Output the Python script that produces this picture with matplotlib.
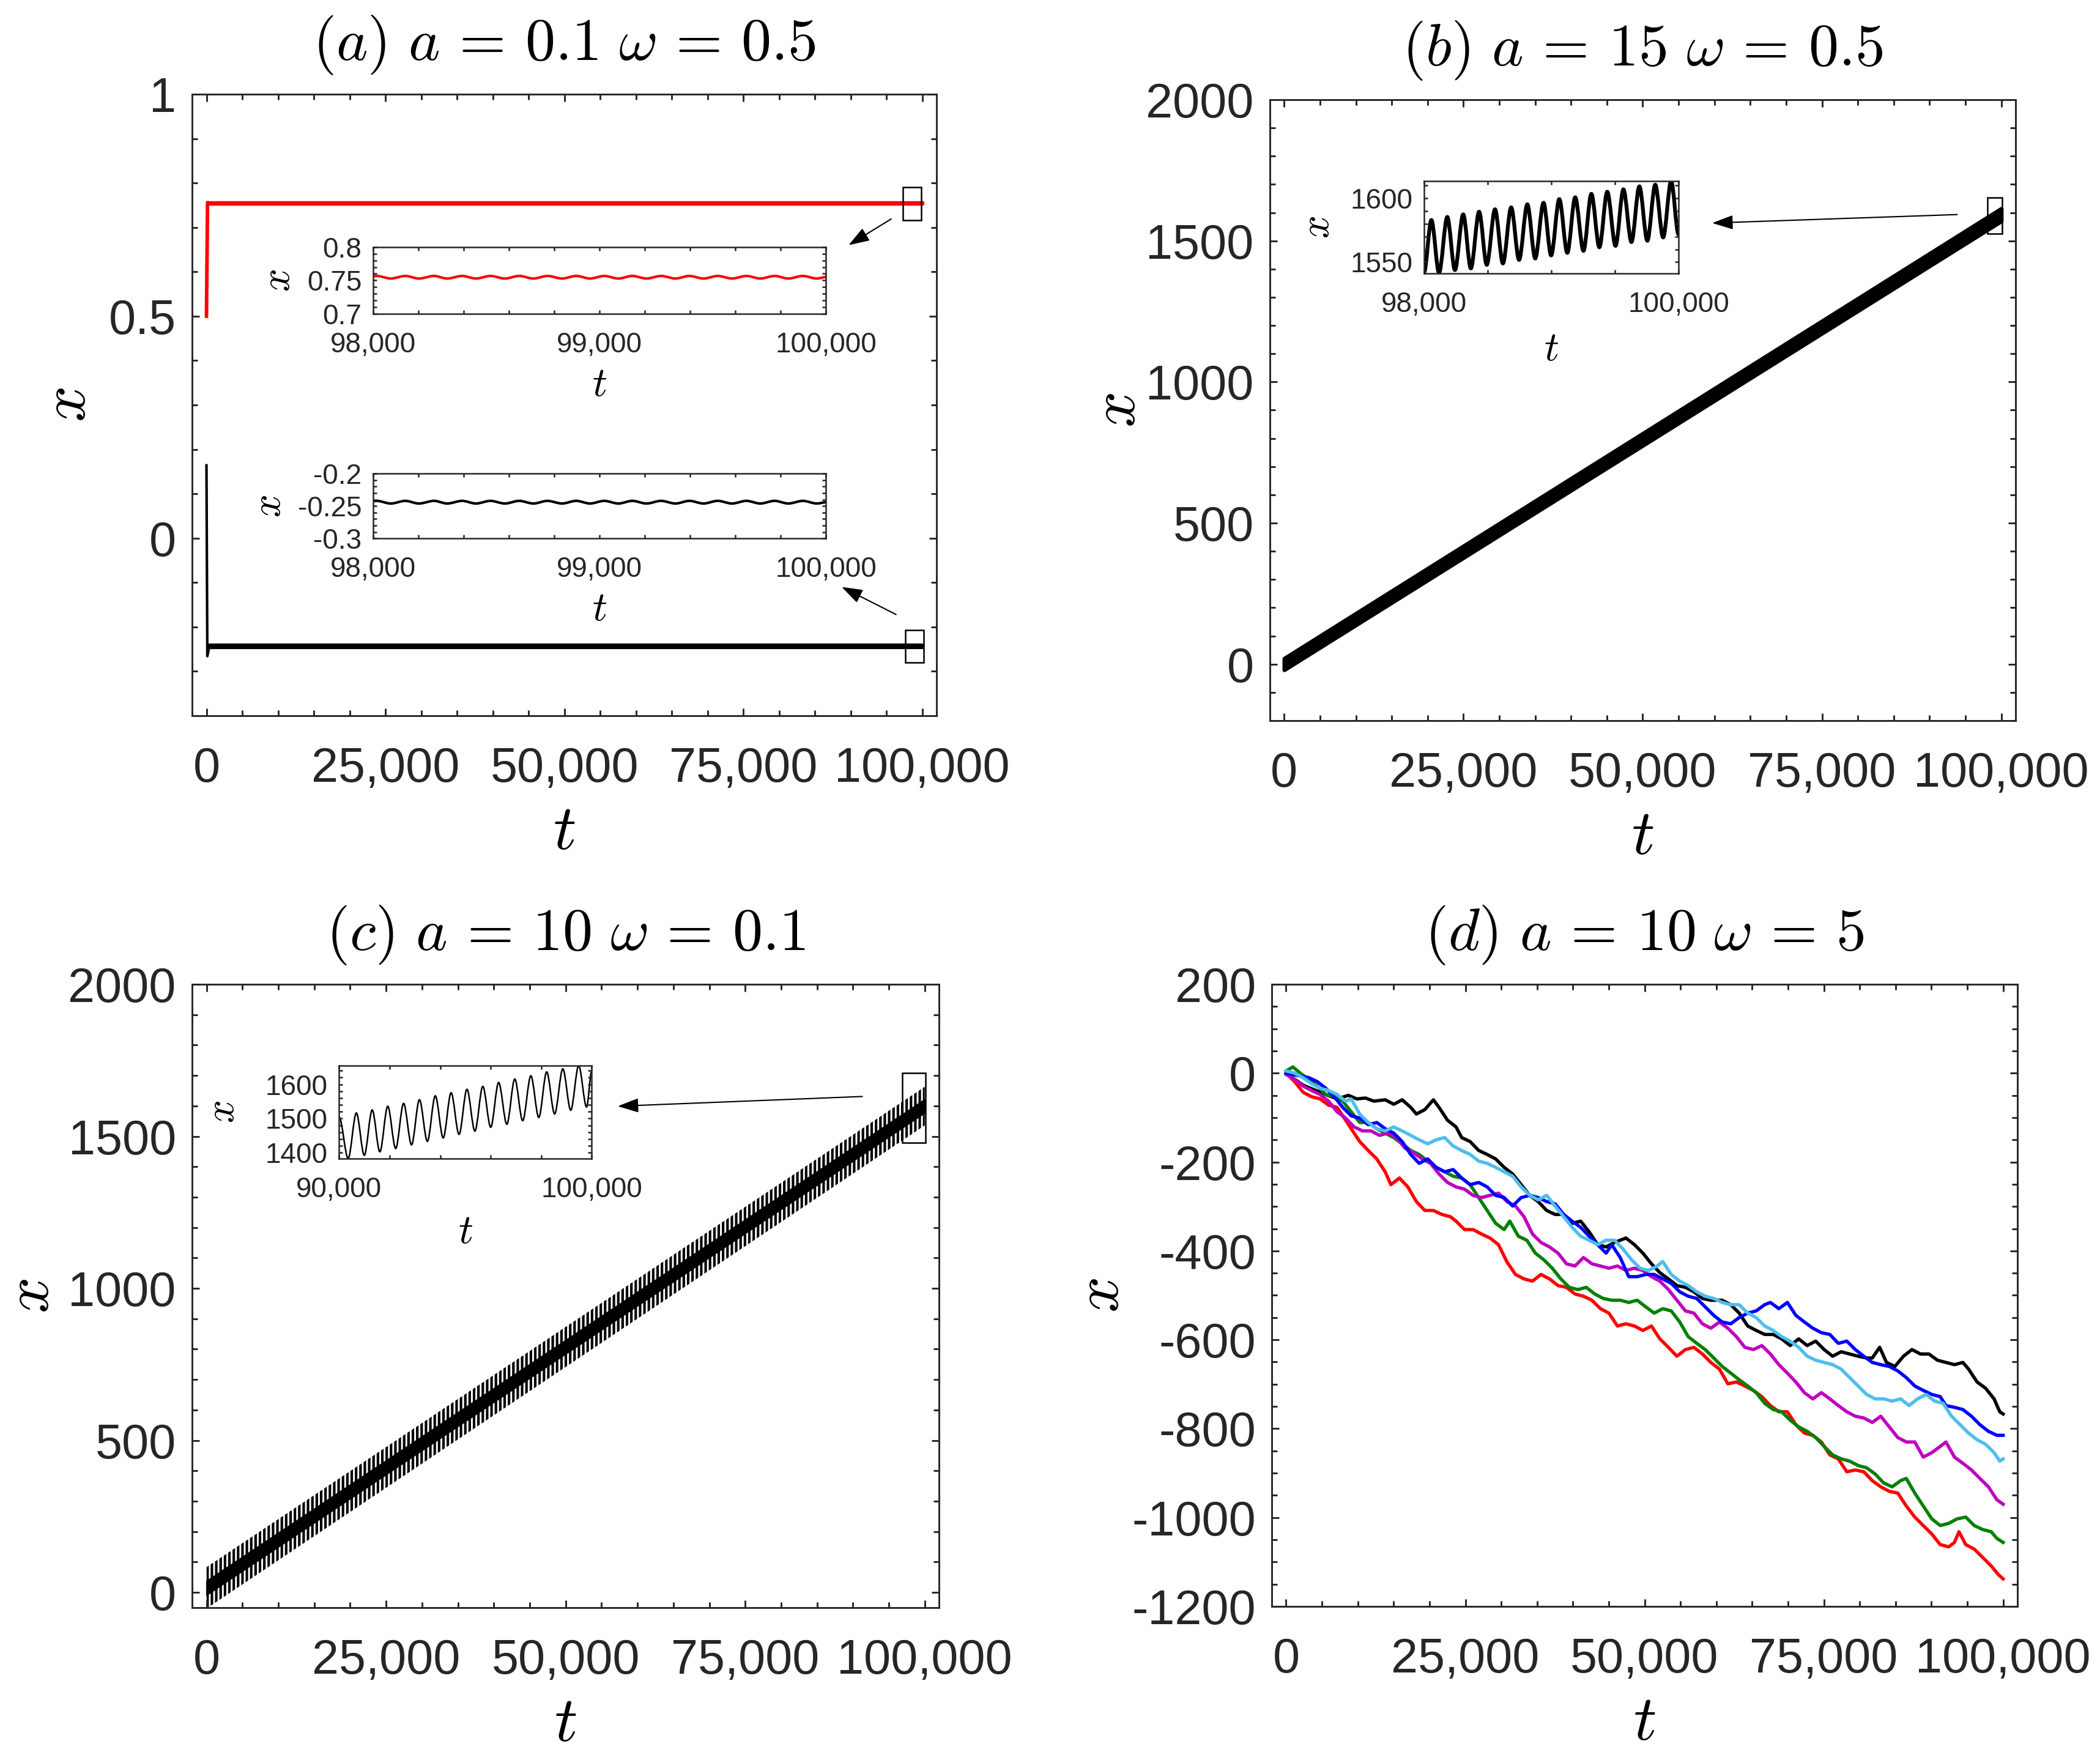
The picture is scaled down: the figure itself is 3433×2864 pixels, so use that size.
import numpy as np
import matplotlib
matplotlib.use('Agg')
import matplotlib.pyplot as plt
from matplotlib.ticker import MultipleLocator, FixedLocator, FuncFormatter
from matplotlib.patches import Rectangle, PathPatch
from matplotlib.path import Path

plt.rcParams['font.family'] = ['Liberation Sans', 'DejaVu Sans']
plt.rcParams['mathtext.fontset'] = 'cm'
plt.rcParams['axes.unicode_minus'] = False
plt.rcParams['hatch.linewidth'] = 1.0

AXC = '#262626'

# ---------------- data ----------------
main_xticks = [0, 25000, 50000, 75000, 100000]

# (a) main traces: initial transient and oscillation envelope afterwards
a_red_t = [0, 150, 400]
a_red_x = [0.5, 0.756, 0.755]
a_red_env_t = [400, 100000]
a_red_env_lo = [0.7528, 0.7528]
a_red_env_hi = [0.7567, 0.7567]
a_blk_t = [0, 120, 400]
a_blk_x = [0.164, -0.266, -0.244]
a_blk_env_t = [400, 100000]
a_blk_env_lo = [-0.2462, -0.2462]
a_blk_env_hi = [-0.2421, -0.2421]

# (a) inset extrema (shared times)
a_ins_t = [98000, 98016, 98078, 98142, 98202, 98269, 98327, 98393, 98454, 98518,
           98582, 98645, 98708, 98770, 98834, 98897, 98958, 99021, 99083, 99145,
           99207, 99272, 99335, 99397, 99459, 99522, 99585, 99649, 99710, 99773,
           99834, 99898, 99960, 100000]
a_red_ins_x = [0.7563, 0.7567, 0.7528, 0.7567, 0.7528, 0.7567, 0.7528, 0.7567, 0.7528, 0.7567,
               0.7528, 0.7567, 0.7528, 0.7567, 0.7528, 0.7567, 0.7528, 0.7567, 0.7528, 0.7567,
               0.7528, 0.7567, 0.7528, 0.7567, 0.7528, 0.7567, 0.7528, 0.7567, 0.7528, 0.7567,
               0.7528, 0.7567, 0.7528, 0.7550]
a_blk_ins_x = [-0.2423, -0.2421, -0.2462, -0.2421, -0.2462, -0.2421, -0.2462, -0.2421, -0.2462, -0.2421,
               -0.2462, -0.2421, -0.2462, -0.2421, -0.2462, -0.2421, -0.2462, -0.2421, -0.2462, -0.2421,
               -0.2462, -0.2421, -0.2462, -0.2421, -0.2462, -0.2421, -0.2462, -0.2421, -0.2462, -0.2421,
               -0.2462, -0.2421, -0.2462, -0.2443]

# (b) main band envelope
b_env_t = [0, 100000]
b_env_lo = [-20, 1570]
b_env_hi = [20, 1614]
# (b) inset extrema
b_ins_t = [98000, 98058, 98118, 98183, 98243, 98308, 98368, 98433, 98493, 98558,
           98620, 98685, 98747, 98812, 98874, 98939, 98999, 99063, 99126, 99188,
           99253, 99315, 99378, 99440, 99505, 99567, 99630, 99692, 99755, 99817,
           99879, 99942, 100000]
b_ins_x = [1541.8, 1583.0, 1541.5, 1585.4, 1543.7, 1587.4, 1545.0, 1589.5, 1547.8, 1591.4,
           1548.9, 1592.9, 1551.7, 1595.3, 1552.8, 1596.5, 1555.2, 1599.4, 1557.2, 1600.8,
           1558.8, 1603.5, 1561.6, 1605.2, 1562.7, 1607.1, 1565.7, 1609.4, 1566.7, 1610.7,
           1569.3, 1613.5, 1571.7]

# (c) main band envelope (outer oscillation band, solid core)
c_env_t = [0, 100000]
c_env_lo = [-53, 1536]
c_env_hi = [83, 1663]
c_core_lo = [-8, 1578]
c_core_hi = [38, 1622]
# (c) inset extrema
c_ins_t = [90000, 90357, 90681, 90995, 91308, 91611, 91924, 92238, 92551, 92865,
           93178, 93492, 93805, 94119, 94432, 94746, 95059, 95373, 95686, 96000,
           96313, 96638, 96951, 97265, 97589, 97902, 98216, 98529, 98854, 99167,
           99481, 99794, 100000]
c_ins_x = [1504, 1383.2, 1516.2, 1392.2, 1525.2, 1402.4, 1535.9, 1412.0, 1544.3, 1422.8,
           1555.1, 1432.9, 1566.5, 1443.1, 1575.4, 1453.3, 1585.6, 1462.9, 1594.0, 1474.3,
           1605.4, 1483.2, 1615.6, 1493.4, 1625.1, 1503.0, 1636.5, 1513.2, 1645.5, 1524.0,
           1655.1, 1533.5, 1640]

# (d) trajectories
d_black_t = [0, 2370, 4740, 7110, 8690, 9870, 11060, 12240, 13820, 15010, 16190, 17380, 18170, 19350,
             20540, 21330, 22510, 23700, 24490, 25670, 26860, 28040, 29230, 30410, 31600, 32780, 33970,
             35150, 36340, 37520, 38710, 39890, 41080, 42260, 43440, 44630, 45810, 47390, 48580, 49760,
             50950, 52130, 53320, 54500, 55690, 56870, 58060, 59240, 60820, 62010, 63190, 64380, 65560,
             66750, 67930, 69120, 70300, 71490, 72670, 73860, 75040, 76220, 77410, 78590, 79780, 80960,
             81750, 82780, 83730, 84910, 86100, 87280, 88470, 89650, 90840, 92020, 93210, 94390, 95180,
             96370, 97550, 98740, 99530, 100000]
d_black_x = [0, -27, -43, -58, -50, -58, -56, -63, -60, -70, -60, -77, -92, -82, -60, -77, -106, -121,
             -145, -154, -174, -183, -193, -212, -227, -251, -275, -289, -309, -318, -318, -338, -333,
             -357, -386, -391, -381, -371, -386, -405, -429, -449, -463, -478, -482, -492, -507, -511,
             -511, -521, -540, -569, -579, -588, -588, -598, -613, -598, -613, -603, -622, -637, -627,
             -632, -637, -641, -641, -617, -651, -660, -637, -622, -632, -632, -646, -651, -656, -651,
             -666, -695, -709, -733, -762, -767]

d_blue_t = [0, 1580, 3160, 4340, 5530, 6710, 7900, 9080, 10270, 11450, 12640, 13820, 15010, 16190,
            17380, 18560, 19750, 20930, 22120, 23300, 24490, 25670, 26860, 28040, 29230, 30410, 31600,
            32780, 33970, 35150, 36340, 37520, 38710, 39890, 41080, 42260, 43440, 44630, 45420, 46600,
            47790, 48970, 50160, 51340, 52530, 53710, 54900, 56080, 57270, 58450, 59640, 60820, 62010,
            63190, 64380, 65560, 66750, 67540, 68720, 69910, 71090, 72280, 73460, 74650, 75830, 77010,
            78200, 79380, 80570, 81750, 82940, 84120, 85310, 86490, 87680, 88860, 90050, 91230, 92020,
            93210, 94390, 95580, 96760, 97950, 99130, 100000]
d_blue_x = [0, -5, -10, -19, -34, -53, -77, -96, -101, -116, -111, -125, -135, -154, -183, -203, -193,
            -212, -222, -217, -236, -251, -246, -256, -275, -280, -299, -280, -275, -280, -289, -294,
            -318, -333, -347, -367, -386, -405, -386, -415, -458, -458, -453, -453, -463, -473, -492,
            -502, -507, -526, -545, -560, -564, -550, -540, -535, -521, -516, -530, -516, -545, -560,
            -574, -584, -588, -608, -603, -622, -637, -651, -656, -660, -670, -685, -704, -714, -723,
            -728, -748, -752, -757, -772, -791, -806, -815, -815]

d_cyan_t = [0, 1190, 2370, 3550, 4740, 5920, 7110, 8290, 9080, 10270, 11450, 12640, 13820, 15010,
            16190, 17380, 18560, 19750, 20930, 22120, 23300, 24490, 25670, 26860, 28040, 29230, 30410,
            31600, 32780, 33970, 35150, 36340, 37520, 38710, 39890, 41080, 42260, 43440, 44630, 45810,
            47000, 48180, 49370, 50550, 51740, 52530, 53710, 54900, 56080, 57270, 58450, 59640, 60820,
            62010, 63190, 64380, 65560, 66750, 67930, 69120, 70300, 71490, 72670, 73860, 75040, 76220,
            77410, 78590, 79780, 80960, 82150, 83330, 84520, 85700, 86890, 88070, 89260, 90440, 91630,
            92810, 94000, 95180, 96370, 97550, 98740, 99530, 100000]
d_cyan_x = [5, 0, -10, -24, -34, -39, -48, -63, -58, -92, -111, -125, -130, -121, -130, -140, -150,
            -159, -150, -145, -164, -174, -183, -198, -203, -212, -222, -232, -256, -275, -285, -275,
            -299, -323, -347, -367, -376, -386, -376, -376, -396, -420, -439, -444, -434, -424, -453,
            -468, -478, -492, -502, -507, -516, -521, -521, -540, -550, -569, -579, -593, -603, -617,
            -637, -646, -651, -656, -666, -685, -704, -723, -733, -733, -738, -733, -748, -733, -723,
            -738, -743, -772, -791, -810, -825, -835, -854, -873, -868]

d_mag_t = [0, 1190, 2370, 3550, 4740, 5920, 7110, 8290, 9480, 10660, 11850, 13030, 14220, 15400,
           16590, 17770, 18960, 20140, 21330, 22510, 23700, 24880, 26070, 27250, 28440, 29620, 30810,
           31990, 33180, 34360, 35550, 36730, 37920, 39100, 40290, 41470, 42650, 43840, 45020, 46210,
           47390, 48580, 49760, 50950, 52130, 53320, 54500, 55690, 56870, 58060, 59240, 60430, 61610,
           62800, 63980, 65170, 66350, 67540, 68720, 69910, 71090, 72280, 73460, 74650, 75830, 77010,
           78200, 79380, 80570, 81750, 82940, 84120, 85310, 86490, 87680, 88860, 90050, 91230, 92020,
           93210, 94390, 95580, 96760, 97950, 99130, 100000]
d_mag_x = [-3, -14, -29, -39, -48, -63, -87, -101, -121, -130, -130, -140, -135, -145, -169, -179,
           -193, -203, -227, -246, -256, -261, -275, -280, -275, -270, -289, -299, -323, -362, -381,
           -391, -405, -429, -434, -415, -429, -434, -439, -434, -444, -439, -444, -458, -468, -487,
           -511, -535, -540, -564, -574, -560, -574, -593, -617, -622, -613, -632, -656, -675, -695,
           -719, -733, -719, -733, -748, -762, -772, -776, -786, -772, -796, -820, -830, -830, -864,
           -854, -840, -830, -864, -878, -893, -912, -931, -960, -970]

d_green_t = [0, 950, 1970, 3160, 4340, 5530, 6710, 7900, 9080, 10270, 11450, 12640, 13820, 15010,
             16190, 17380, 18560, 19750, 20930, 22120, 23300, 24490, 25670, 26860, 28040, 29230, 30410,
             31200, 32390, 33570, 34760, 35940, 37130, 38310, 39500, 40680, 41870, 43050, 44230, 45420,
             46600, 47790, 48970, 50160, 51340, 52530, 53710, 54900, 56080, 57270, 58450, 59640, 60820,
             62010, 63190, 64380, 65560, 66750, 67930, 69120, 70300, 71490, 72670, 73860, 75040, 76220,
             77410, 78590, 79780, 80960, 82150, 83330, 84520, 85700, 86490, 87680, 88860, 90050, 91230,
             92420, 93600, 94790, 95970, 97160, 98340, 99130, 100000]
d_green_x = [5, 14, 0, -14, -29, -48, -53, -63, -87, -111, -111, -125, -135, -145, -159, -174, -183,
             -198, -212, -222, -232, -236, -251, -280, -309, -338, -352, -333, -367, -376, -405, -420,
             -439, -463, -482, -487, -482, -497, -507, -511, -511, -516, -511, -526, -540, -530, -535,
             -560, -593, -608, -622, -641, -660, -675, -690, -704, -719, -743, -757, -762, -781, -796,
             -806, -820, -840, -859, -868, -873, -883, -888, -902, -922, -931, -917, -912, -945, -974,
             -1003, -1018, -1013, -1003, -999, -1018, -1027, -1032, -1047, -1056]

d_red_t = [0, 1190, 2370, 3550, 4740, 5920, 7110, 7900, 9080, 10270, 11450, 12640, 13820, 14610,
           15800, 16980, 18170, 19350, 20540, 21720, 22910, 23700, 24880, 26070, 27250, 28440, 29620,
           30810, 31990, 33180, 34360, 35550, 36730, 37920, 39100, 40290, 41470, 42650, 43840, 45020,
           46210, 47390, 48580, 49760, 50950, 52130, 53320, 54500, 55690, 56870, 58060, 59240, 60430,
           61610, 62800, 63980, 65170, 66350, 67540, 68720, 69910, 71090, 72280, 73460, 74650, 75830,
           77010, 78200, 79380, 80570, 81750, 82940, 84120, 85310, 86490, 87680, 88860, 90050, 91230,
           92420, 93210, 93840, 94790, 95970, 97160, 98340, 99370, 100000]
d_red_x = [0, -19, -43, -53, -58, -72, -77, -96, -125, -154, -174, -193, -222, -251, -236, -256, -289,
           -309, -309, -318, -323, -333, -352, -352, -362, -371, -386, -425, -453, -463, -468, -453,
           -463, -478, -482, -497, -502, -511, -530, -540, -569, -564, -569, -579, -569, -598, -617,
           -637, -622, -617, -632, -651, -666, -699, -695, -704, -714, -728, -748, -762, -762, -791,
           -810, -815, -830, -859, -868, -897, -893, -897, -917, -931, -941, -945, -974, -999, -1018,
           -1037, -1061, -1066, -1056, -1032, -1061, -1071, -1090, -1109, -1129, -1138]

# ---------------- helpers ----------------
def smooth_curve(ax, t, x, **kw):
    verts = [(t[0], x[0])]
    codes = [Path.MOVETO]
    for i in range(1, len(t)):
        dt = (t[i] - t[i - 1]) / 3.0
        verts += [(t[i - 1] + dt, x[i - 1]), (t[i] - dt, x[i]), (t[i], x[i])]
        codes += [Path.CURVE4] * 3
    ax.add_patch(PathPatch(Path(verts, codes), fill=False, capstyle='round',
                           joinstyle='round', **kw))

comma_fmt = FuncFormatter(lambda v, p: f'{int(round(v)):,}')
g_fmt = FuncFormatter(lambda v, p: f'{v:g}')

def style_main(ax, ylim, yticks, yminor, ylabelpad, title):
    ax.set_xlim(-2000, 102000)
    ax.set_ylim(*ylim)
    ax.xaxis.set_major_locator(FixedLocator(main_xticks))
    ax.xaxis.set_minor_locator(MultipleLocator(5000))
    ax.xaxis.set_major_formatter(comma_fmt)
    ax.yaxis.set_major_locator(FixedLocator(yticks))
    ax.yaxis.set_minor_locator(MultipleLocator(yminor))
    ax.yaxis.set_major_formatter(g_fmt)
    ax.tick_params(which='both', direction='in', top=True, right=True,
                   colors=AXC, labelsize=19, width=0.7)
    ax.tick_params(which='major', length=2.8)
    ax.tick_params(which='minor', length=2.2)
    ax.tick_params(axis='x', which='both', pad=12)
    ax.tick_params(axis='y', which='both', pad=6.3)
    for s in ax.spines.values():
        s.set_color(AXC)
        s.set_linewidth(0.7)
    ax.set_xlabel('$t$', fontsize=25, labelpad=4.3)
    ax.set_ylabel('$x$', fontsize=25, labelpad=ylabelpad)
    ax.set_title(title, fontsize=23.5, pad=13.5)

def style_inset(ax, xlim, ylim, xticks, xminor, yticks, yminor, xlp, ylp):
    ax.set_xlim(*xlim)
    ax.set_ylim(*ylim)
    ax.xaxis.set_major_locator(FixedLocator(xticks))
    ax.xaxis.set_minor_locator(MultipleLocator(xminor))
    ax.xaxis.set_major_formatter(comma_fmt)
    ax.yaxis.set_major_locator(FixedLocator(yticks))
    ax.yaxis.set_minor_locator(MultipleLocator(yminor))
    ax.yaxis.set_major_formatter(g_fmt)
    ax.tick_params(which='both', direction='in', top=True, right=True,
                   colors=AXC, labelsize=11, width=0.6, length=1.4)
    ax.tick_params(axis='x', which='both', pad=7)
    ax.tick_params(axis='y', which='both', pad=4.5)
    for s in ax.spines.values():
        s.set_color(AXC)
        s.set_linewidth(0.6)
    ax.set_xlabel('$t$', fontsize=16, labelpad=xlp)
    ax.set_ylabel('$x$', fontsize=16, labelpad=ylp)

def arrow(ax, tail, head):
    ax.annotate('', xy=head, xytext=tail,
                arrowprops=dict(arrowstyle='-|>,head_length=0.35,head_width=0.12',
                                color='k', lw=0.5, shrinkA=0, shrinkB=0,
                                mutation_scale=20))

def box(ax, x0, y0, w, h):
    ax.add_patch(Rectangle((x0, y0), w, h, fill=False, ec='k', lw=0.6, zorder=5))

# ---------------- figure ----------------
fig = plt.figure(figsize=(3433 / 300, 2864 / 300), dpi=300)

# (a)
ax_a = fig.add_axes([0.0915, 0.5915, 0.3545, 0.3547])
ax_a.plot(a_red_t, a_red_x, color='#FF0000', lw=1.4)
ax_a.fill_between(a_red_env_t, a_red_env_lo, a_red_env_hi, facecolor='#FF0000',
                  edgecolor='#FF0000', lw=1.3)
ax_a.plot(a_blk_t, a_blk_x, color='k', lw=1.0)
ax_a.fill_between(a_blk_env_t, a_blk_env_lo, a_blk_env_hi, facecolor='k',
                  edgecolor='k', lw=1.5)
style_main(ax_a, (-0.4, 1.0), [0, 0.5, 1], 0.1, 4, r'$(a)\ a\,=\,0.1\ \omega\,=\,0.5$')
box(ax_a, 97300, 0.716, 2550, 0.075)
box(ax_a, 97600, -0.280, 2570, 0.073)
arrow(ax_a, (95650, 0.719), (89700, 0.660))
arrow(ax_a, (96330, -0.172), (88740, -0.110))

ax_a1 = fig.add_axes([0.1777, 0.8209, 0.2156, 0.0381])
smooth_curve(ax_a1, a_ins_t, a_red_ins_x, ec='#FF0000', lw=1.0)
style_inset(ax_a1, (98000, 100000), (0.7, 0.8), [98000, 99000, 100000], 200,
            [0.7, 0.75, 0.8], 0.01, 3, 3.5)

ax_a2 = fig.add_axes([0.1777, 0.6927, 0.2156, 0.0370])
smooth_curve(ax_a2, a_ins_t, a_blk_ins_x, ec='k', lw=1.0)
style_inset(ax_a2, (98000, 100000), (-0.3, -0.2), [98000, 99000, 100000], 200,
            [-0.3, -0.25, -0.2], 0.01, 3, 3.5)

# (b)
ax_b = fig.add_axes([0.6047, 0.5887, 0.3551, 0.3544])
ax_b.fill_between(b_env_t, b_env_lo, b_env_hi, facecolor='k', edgecolor='k', lw=1.6)
style_main(ax_b, (-200, 2000), [0, 500, 1000, 1500, 2000], 100, -1,
           r'$(b)\ a\,=\,15\ \omega\,=\,0.5$')
box(ax_b, 98100, 1525, 2000, 128)
arrow(ax_b, (93850, 1593), (59690, 1563))

ax_b1 = fig.add_axes([0.6781, 0.8439, 0.1212, 0.0527])
smooth_curve(ax_b1, b_ins_t, b_ins_x, ec='k', lw=1.5)
style_inset(ax_b1, (98000, 100000), (1541, 1613.5), [98000, 100000], 500,
            [1550, 1600], 10, 5, 5)

# (c)
ax_c = fig.add_axes([0.0915, 0.0824, 0.3557, 0.3558])
ax_c.fill_between(c_env_t, c_env_lo, c_env_hi, facecolor='none', edgecolor='k',
                  hatch='|||||||', lw=0.0)
ax_c.fill_between(c_env_t, c_core_lo, c_core_hi, facecolor='k', edgecolor='k', lw=0.5)
style_main(ax_c, (-50, 2000), [0, 500, 1000, 1500, 2000], 100, 2.5,
           r'$(c)\ a\,=\,10\ \omega\,=\,0.1$')
box(ax_c, 96900, 1479, 3200, 229)
arrow(ax_c, (91300, 1631), (57250, 1599))

ax_c1 = fig.add_axes([0.1615, 0.3388, 0.1203, 0.0530])
smooth_curve(ax_c1, c_ins_t, c_ins_x, ec='k', lw=0.6)
style_inset(ax_c1, (90000, 100000), (1383, 1655), [90000, 100000], 2000,
            [1400, 1500, 1600], 20, 4, 9)

# (d)
ax_d = fig.add_axes([0.6056, 0.0831, 0.3551, 0.3551])
for tt, xx, col in [(d_black_t, d_black_x, 'k'),
                    (d_red_t, d_red_x, '#FF0000'),
                    (d_green_t, d_green_x, '#008000'),
                    (d_mag_t, d_mag_x, '#BF00BF'),
                    (d_blue_t, d_blue_x, '#0000FF'),
                    (d_cyan_t, d_cyan_x, '#4DBEEE')]:
    ax_d.plot(tt, xx, color=col, lw=1.3)
style_main(ax_d, (-1200, 200), list(range(-1200, 201, 200)), 50, 0,
           r'$(d)\ a\,=\,10\ \omega\,=\,5$')

fig.savefig('out.png', dpi=300, facecolor='white')
